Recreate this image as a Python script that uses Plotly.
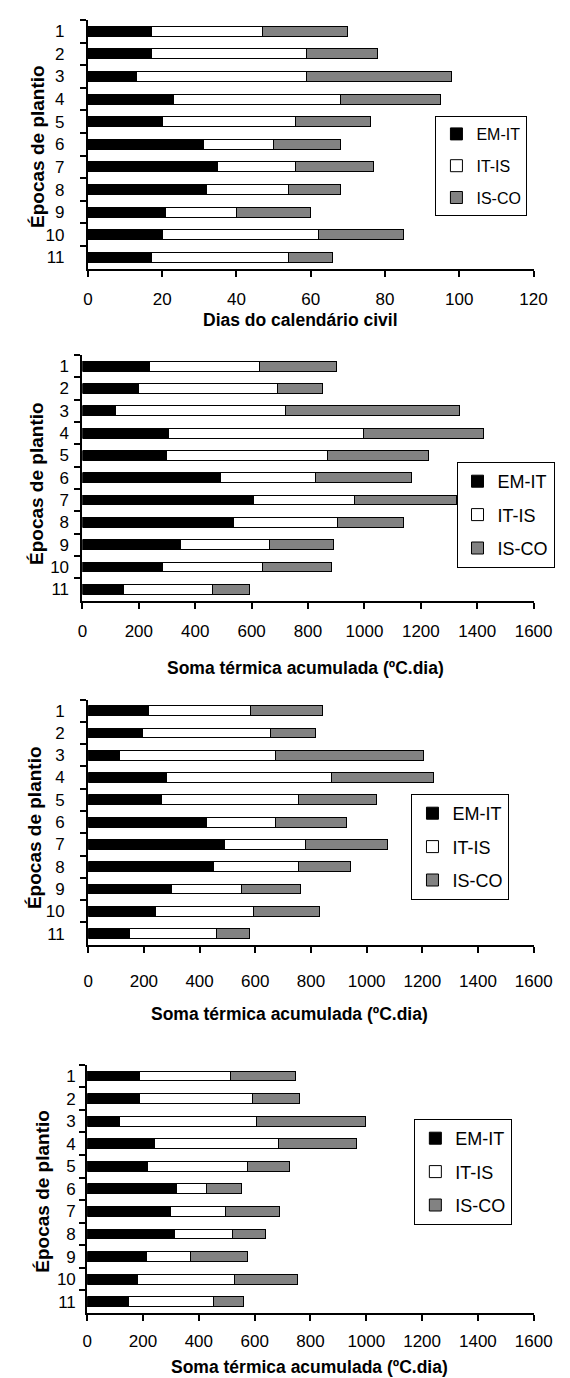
import plotly.graph_objects as go

W, H = 570, 1378

epocas = ["1", "2", "3", "4", "5", "6", "7", "8", "9", "10", "11"]
series_names = ["EM-IT", "IT-IS", "IS-CO"]

# Panel 1: Dias do calendário civil
p1_em_it = [17, 17, 13, 23, 20, 31, 35, 32, 21, 20, 17]
p1_it_is = [30, 42, 46, 45, 36, 19, 21, 22, 19, 42, 37]
p1_is_co = [23, 19, 39, 27, 20, 18, 21, 14, 20, 23, 12]

# Panel 2: Soma térmica acumulada
p2_em_it = [237, 200, 117, 304, 297, 489, 608, 534, 346, 284, 146]
p2_it_is = [391, 492, 602, 691, 572, 339, 358, 369, 319, 356, 315]
p2_is_co = [273, 161, 619, 426, 360, 338, 360, 234, 226, 242, 130]

# Panel 3
p3_em_it = [218, 195, 114, 280, 263, 424, 490, 450, 298, 243, 149]
p3_it_is = [364, 458, 560, 593, 493, 250, 289, 306, 254, 351, 310]
p3_is_co = [259, 165, 529, 368, 279, 252, 297, 185, 211, 237, 119]

# Panel 4
p4_em_it = [186, 186, 115, 241, 216, 321, 300, 312, 212, 181, 149]
p4_it_is = [327, 407, 490, 445, 357, 108, 197, 210, 159, 348, 302]
p4_is_co = [233, 167, 393, 280, 151, 124, 193, 118, 203, 225, 108]

x_titles = ["Dias do calendário civil",
            "Soma térmica acumulada (ºC.dia)",
            "Soma térmica acumulada (ºC.dia)",
            "Soma térmica acumulada (ºC.dia)"]
y_title = "Épocas de plantio"
x_ranges = [(0, 120, 20), (0, 1600, 200), (0, 1600, 200), (0, 1600, 200)]

colors = ["#000000", "#ffffff", "#828282"]
FONT = "Arial, 'Liberation Sans', sans-serif"

panels = [
    (p1_em_it, p1_it_is, p1_is_co),
    (p2_em_it, p2_it_is, p2_is_co),
    (p3_em_it, p3_it_is, p3_is_co),
    (p4_em_it, p4_it_is, p4_is_co),
]

# layout geometry in pixels (left, right, top, bottom)
boxes = [
    (78.2, 543.4, 12.0, 260.7),
    (72.5, 543.5, 347.0, 592.5),
    (78.5, 543.6, 691.5, 936.7),
    (77.5, 543.6, 1056.7, 1305.0),
]
ylab_standoff = [18, 8, 18, 6]
xlab_standoff = [8, 8, 14, 6]
xtitle_pos = [(300, 312), (305, 660), (289, 1006), (310, 1359)]
ytitle_pos = [(26, 138), (24, 475), (22, 820), (30, 1183)]
legend_pos = [(441, 108), (463, 454), (416, 786), (419, 1111)]
legend_font = [16, 18, 18, 18]
legend_gap = [8, 7, 7, 7]


def px_x(x):
    return x / W


def px_y(y):
    return 1 - y / H


fig = go.Figure()
annotations = []
for i, vals in enumerate(panels):
    n = "" if i == 0 else str(i + 1)
    xa, ya = "x" + n, "y" + n
    lg = "legend" + n
    for k, (name, v) in enumerate(zip(series_names, vals)):
        fig.add_trace(go.Bar(
            y=epocas, x=v, name=name, orientation="h",
            marker=dict(color=colors[k], line=dict(color="#000000", width=1)),
            xaxis=xa, yaxis=ya, legend=lg,
            legendgroup=f"{i}-{name}",
        ))
    l, r, t, b = boxes[i]
    lo, hi, dt = x_ranges[i]
    fig.layout["xaxis" + n] = dict(
        domain=[px_x(l), px_x(r)], anchor=ya, range=[lo, hi], dtick=dt,
        showline=True, linecolor="#000", linewidth=2, ticks="outside",
        ticklen=6, tickwidth=1.5, tickcolor="#000", showgrid=False,
        zeroline=False, ticklabelstandoff=xlab_standoff[i],
        tickfont=dict(family=FONT, size=17, color="#000"), fixedrange=True,
    )
    fig.layout["yaxis" + n] = dict(
        domain=[px_y(b), px_y(t)], anchor=xa, type="category",
        categoryorder="array", categoryarray=epocas,
        range=[10.5, -0.5], showline=True, linecolor="#000", linewidth=2,
        ticks="outside", ticklen=6, tickwidth=1.5, tickcolor="#000",
        tickson="boundaries", showgrid=False, zeroline=False,
        ticklabelstandoff=ylab_standoff[i],
        tickfont=dict(family=FONT, size=17, color="#000"), fixedrange=True,
    )
    lx, ly = legend_pos[i]
    fig.layout[lg] = dict(
        x=px_x(lx), y=px_y(ly), xanchor="left", yanchor="top",
        bordercolor="#000", borderwidth=1, bgcolor="#fff",
        font=dict(family=FONT, size=legend_font[i], color="#000"),
        traceorder="grouped", tracegroupgap=legend_gap[i],
    )
    tx, ty = xtitle_pos[i]
    annotations.append(dict(
        x=px_x(tx), y=px_y(ty), xref="paper", yref="paper",
        text=f"<b>{x_titles[i]}</b>", showarrow=False,
        font=dict(family=FONT, size=17.5, color="#000"),
        xanchor="center", yanchor="middle",
    ))
    yx, yy = ytitle_pos[i]
    annotations.append(dict(
        x=px_x(yx), y=px_y(yy), xref="paper", yref="paper",
        text=f"<b>{y_title}</b>", showarrow=False, textangle=-90,
        font=dict(family=FONT, size=19, color="#000"),
        xanchor="center", yanchor="middle",
    ))

fig.update_layout(
    width=W, height=H, margin=dict(l=0, r=0, t=0, b=0),
    barmode="stack", bargap=0.56,
    paper_bgcolor="#fff", plot_bgcolor="#fff",
    showlegend=True, annotations=annotations,
    font=dict(family=FONT, color="#000"),
)

fig.write_html("out.html")
